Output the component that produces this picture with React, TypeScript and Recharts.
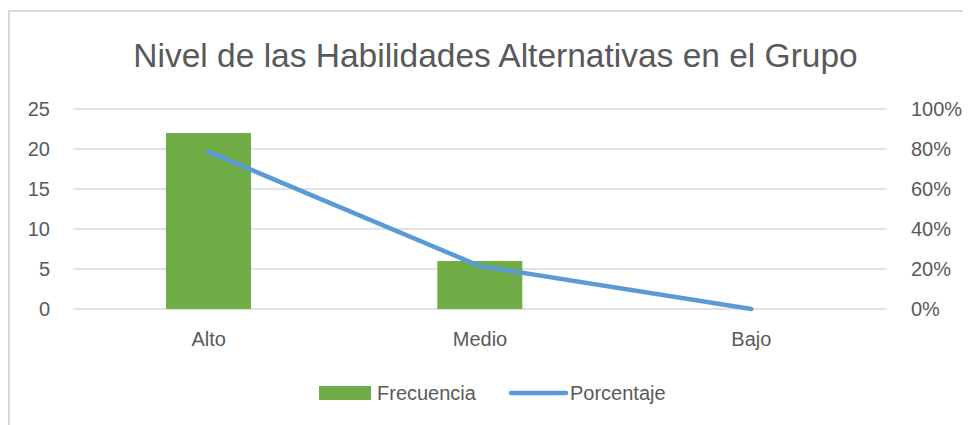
import React from 'react';
import { ComposedChart, Bar, Line, XAxis, YAxis, CartesianGrid, Legend } from 'recharts';

const categories = ['Alto', 'Medio', 'Bajo'];
const frecuencia = [22, 6, 0];
const porcentaje = [0.7857, 0.2143, 0];
const leftTicks = [0, 5, 10, 15, 20, 25];
const rightTicks = [0, 0.2, 0.4, 0.6, 0.8, 1];
const title = 'Nivel de las Habilidades Alternativas en el Grupo';

const data = categories.map((c, i) => ({ name: c, Frecuencia: frecuencia[i], Porcentaje: porcentaje[i] }));

const FONT = '"Liberation Sans", Arial, sans-serif';
const TEXT = '#595959';
const W = 963;
const H = 417;

const LegendContent = (props: any) => {
  const items = props.payload || [];
  const byName: Record<string, any> = {};
  items.forEach((p: any) => (byName[p.value] = p));
  return (
    <svg width={W} height={30} style={{ display: 'block' }}>
      <rect x={311} y={8} width={52} height={14} fill="#70AD47" />
      <text x={369} y={22} fontFamily={FONT} fontSize={20} fill={TEXT}>Frecuencia</text>
      <line x1={503} y1={15} x2={558} y2={15} stroke="#5B9BD5" strokeWidth={4.5} strokeLinecap="round" />
      <text x={562} y={22} fontFamily={FONT} fontSize={20} fill={TEXT}>Porcentaje</text>
    </svg>
  );
};

export default function App() {
  return (
    <div style={{ position: 'relative', width: W, height: H }}>
      <div style={{ position: 'absolute', left: 0, top: 2, width: W, height: 2, background: '#D9D9D9' }} />
      <div style={{ position: 'absolute', left: 0, top: 2, width: 2, height: H, background: '#D9D9D9' }} />
      <ComposedChart
        width={W}
        height={H}
        data={data}
        margin={{ top: 101, right: 0, left: 0, bottom: 76 }}
        barCategoryGap="34%"
      >
        <CartesianGrid vertical={false} stroke="#D9D9D9" strokeWidth={1.6} yAxisId="left" />
        <XAxis
          dataKey="name"
          axisLine={false}
          tickLine={false}
          tickSize={0}
          tickMargin={23}
          height={40}
          tick={{ fill: TEXT, fontSize: 20, fontFamily: FONT }}
        />
        <YAxis
          yAxisId="left"
          orientation="left"
          width={65}
          domain={[0, 25]}
          ticks={leftTicks}
          axisLine={false}
          tickLine={false}
          tickSize={0}
          tickMargin={23}
          tick={{ fill: TEXT, fontSize: 20, fontFamily: FONT }}
        />
        <YAxis
          yAxisId="right"
          orientation="right"
          width={84}
          domain={[0, 1]}
          ticks={rightTicks}
          axisLine={false}
          tickLine={false}
          tickSize={0}
          tickMargin={24}
          tickFormatter={(v: number) => `${Math.round(v * 100)}%`}
          tick={{ fill: TEXT, fontSize: 20, fontFamily: FONT, textAnchor: 'start' }}
        />
        <Bar yAxisId="left" dataKey="Frecuencia" fill="#70AD47" barSize={85} isAnimationActive={false} />
        <Line
          yAxisId="right"
          dataKey="Porcentaje"
          type="linear"
          stroke="#5B9BD5"
          strokeWidth={4.5}
          strokeLinecap="round"
          strokeLinejoin="round"
          dot={false}
          activeDot={false}
          isAnimationActive={false}
        />
        <Legend
          layout="horizontal"
          verticalAlign="middle"
          align="center"
          content={<LegendContent />}
          wrapperStyle={{ position: 'absolute', left: 0, top: 370, width: W, height: 30 }}
        />
      </ComposedChart>
      <svg width={W} height={80} style={{ position: 'absolute', left: 0, top: 0, pointerEvents: 'none' }}>
        <text x={487.5} y={59} textAnchor="middle" fontFamily={FONT} fontSize={33.5} fill={TEXT}>
          {title}
        </text>
      </svg>
    </div>
  );
}
